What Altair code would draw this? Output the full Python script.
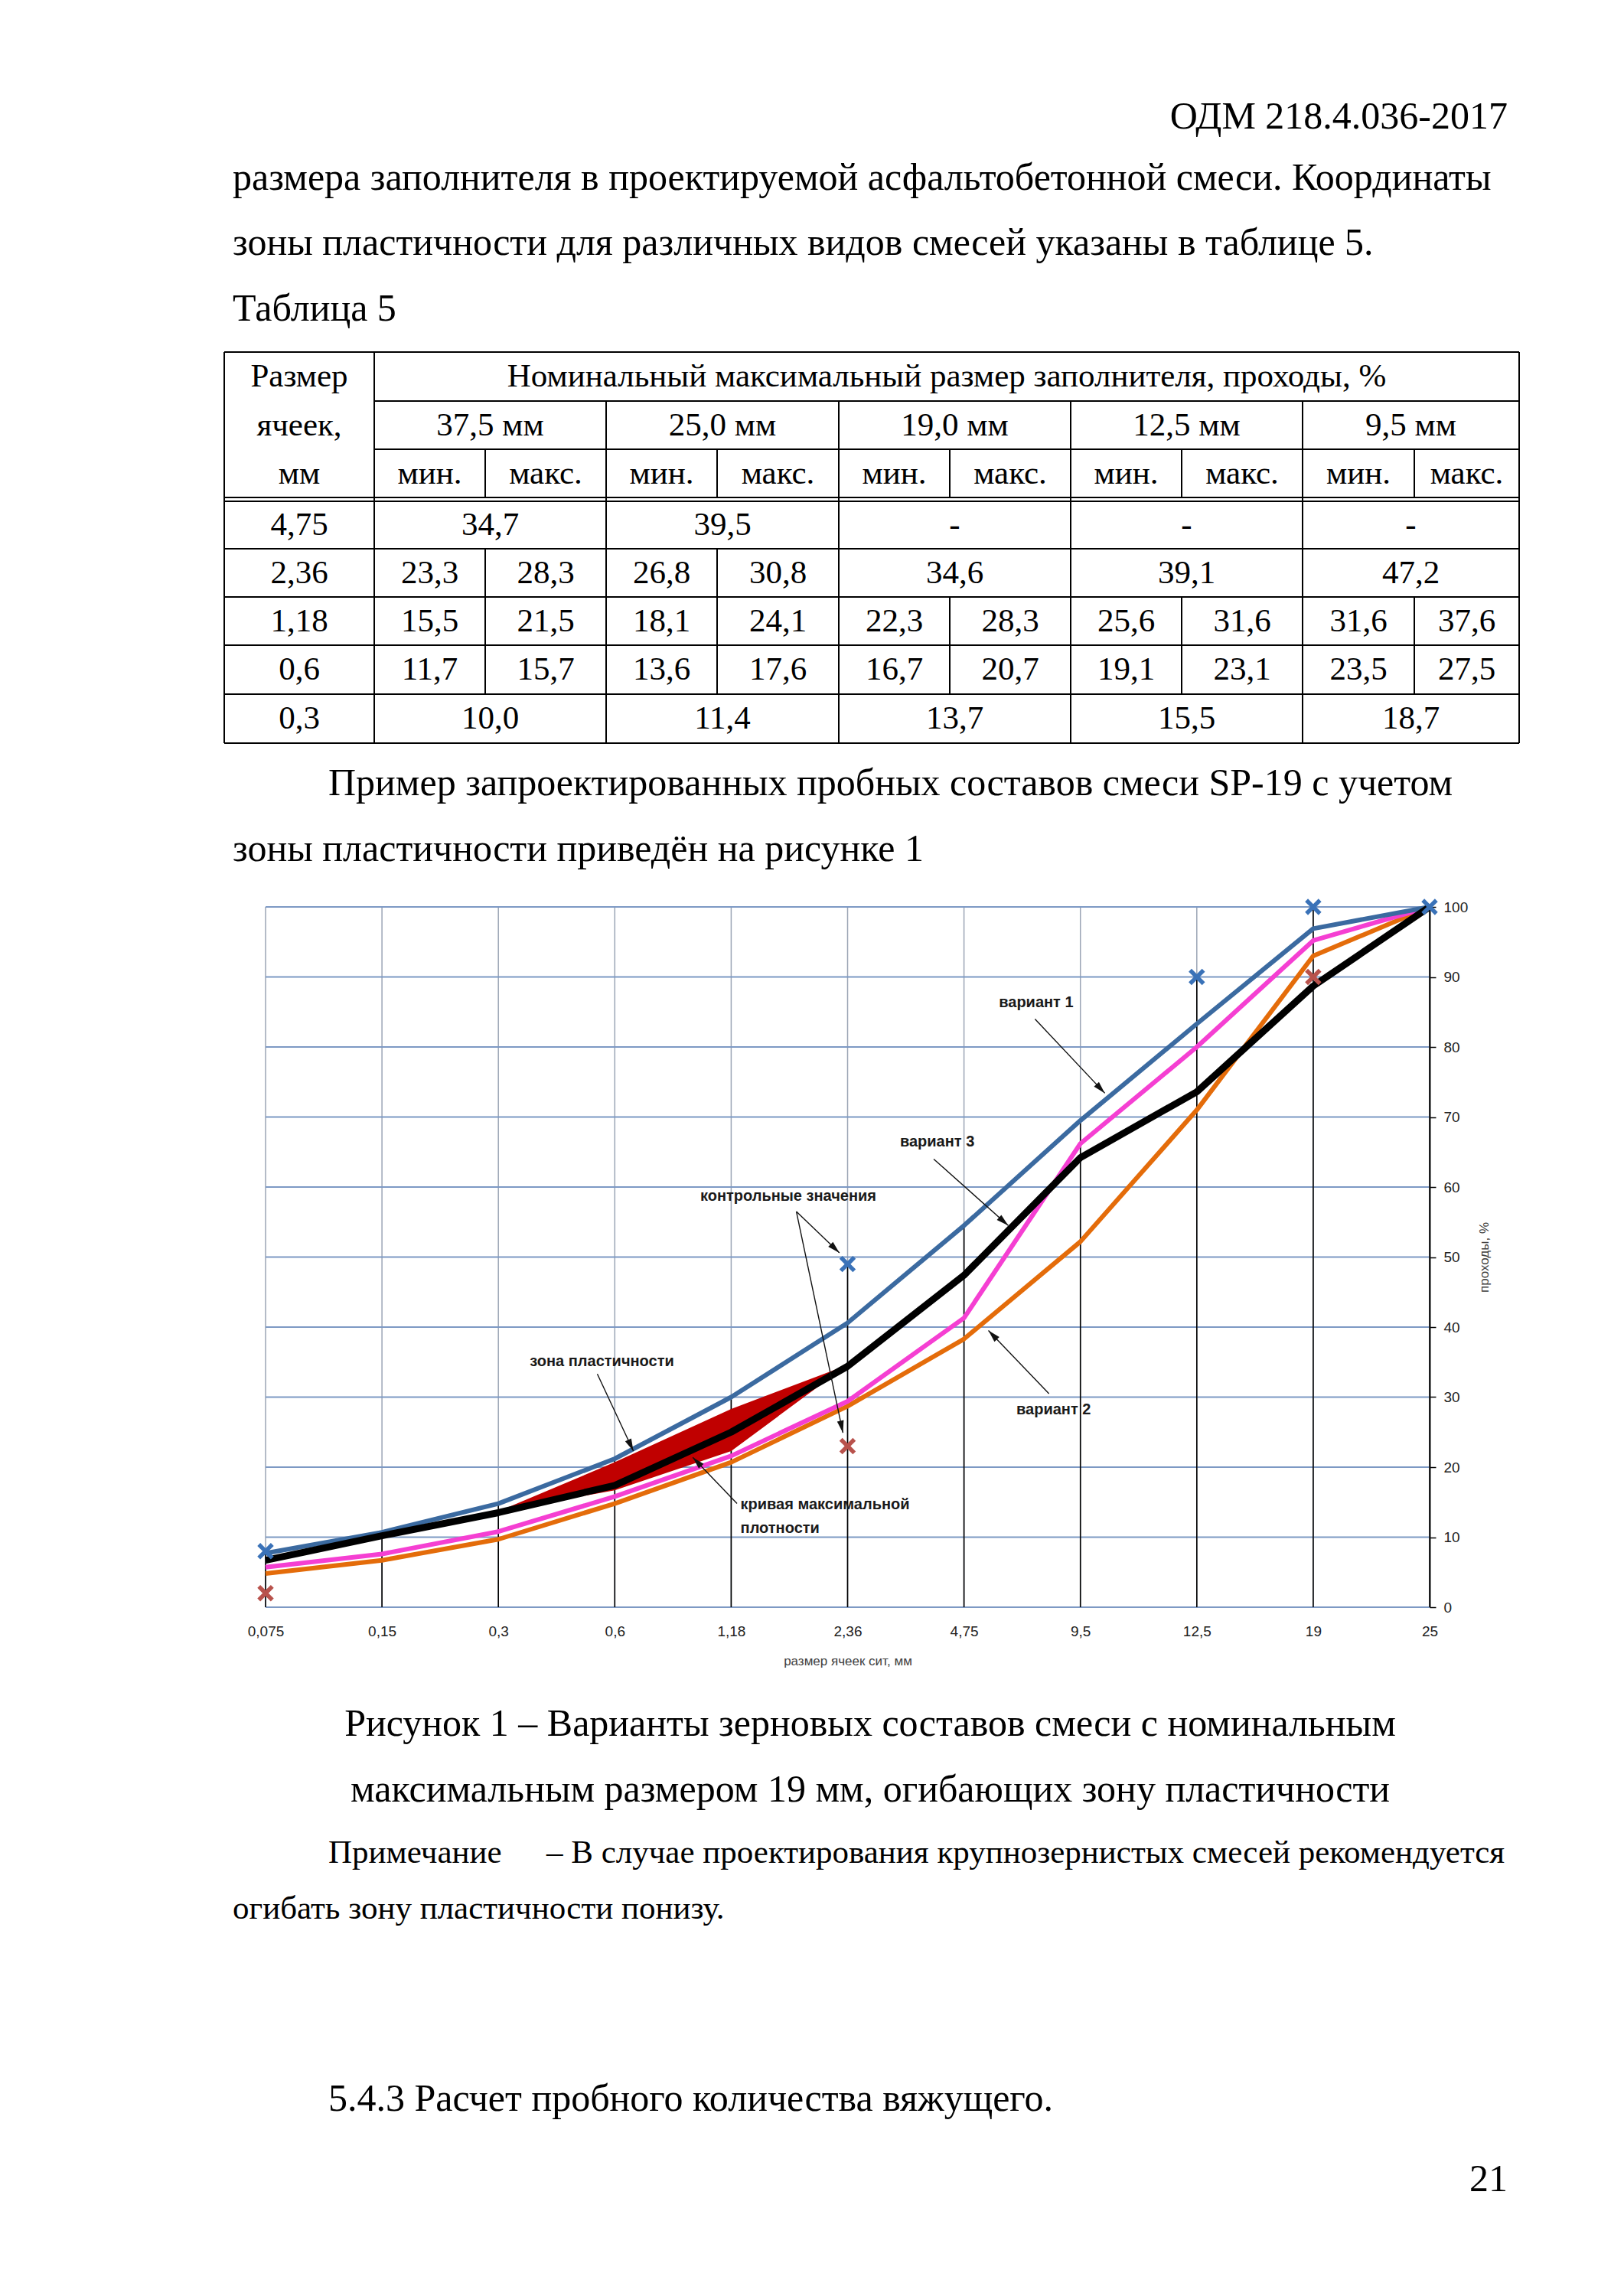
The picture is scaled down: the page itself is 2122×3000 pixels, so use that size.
import json
import math
import altair as alt
import pandas as pd

# ------------------------------------------------------------------
# page geometry (page is 2122 px wide, body margin 8 px)
# ------------------------------------------------------------------
W, H = 2106, 2984
OFF = 8

SERIF = "Liberation Serif"
SANS = "Liberation Sans"

# ------------------------------------------------------------------
# chart data
# ------------------------------------------------------------------
sieve_labels = ["0,075", "0,15", "0,3", "0,6", "1,18", "2,36", "4,75", "9,5", "12,5", "19", "25"]
variant1_blue = [7.7, 10.7, 14.8, 21.2, 30.0, 40.6, 54.5, 69.5, 83.3, 96.9, 100]
variant2_orange = [4.8, 6.7, 9.7, 14.8, 20.7, 28.7, 38.3, 52.2, 71.0, 93.0, 100]
variant3_black = [6.7, 10.2, 13.5, 17.4, 25.0, 34.4, 47.4, 64.2, 73.6, 88.7, 100]
mix_pink = [5.7, 7.6, 10.8, 15.8, 21.6, 29.4, 41.3, 66.2, 80.0, 95.2, 100]

ctrl_upper_sizes = ["0,075", "2,36", "12,5", "19", "25"]
ctrl_upper_values = [8, 49, 90, 100, 100]
ctrl_lower_sizes = ["0,075", "2,36", "19"]
ctrl_lower_values = [2, 23, 90]

y_ticks = [0, 10, 20, 30, 40, 50, 60, 70, 80, 90, 100]

# ------------------------------------------------------------------
# table 5 data
# ------------------------------------------------------------------
table_groups = ["37,5 мм", "25,0 мм", "19,0 мм", "12,5 мм", "9,5 мм"]
table_sizes = ["4,75", "2,36", "1,18", "0,6", "0,3"]
row_4_75 = [["34,7"], ["39,5"], ["-"], ["-"], ["-"]]
row_2_36 = [["23,3", "28,3"], ["26,8", "30,8"], ["34,6"], ["39,1"], ["47,2"]]
row_1_18 = [["15,5", "21,5"], ["18,1", "24,1"], ["22,3", "28,3"], ["25,6", "31,6"], ["31,6", "37,6"]]
row_0_6 = [["11,7", "15,7"], ["13,6", "17,6"], ["16,7", "20,7"], ["19,1", "23,1"], ["23,5", "27,5"]]
row_0_3 = [["10,0"], ["11,4"], ["13,7"], ["15,5"], ["18,7"]]
table_rows = [row_4_75, row_2_36, row_1_18, row_0_6, row_0_3]

# ------------------------------------------------------------------
# page layout helpers (positions in reference page pixels)
# ------------------------------------------------------------------
PX = alt.Scale(domain=[0, W], range=[0, W], nice=False, zero=False)
PY = alt.Scale(domain=[0, H], range=[0, H], nice=False, zero=False)


def page_text(items, size, align="left", font=SERIF, weight="normal", color="black"):
    df = pd.DataFrame(items, columns=["x", "y", "t"])
    df["x"] = df["x"] - OFF
    df["y"] = df["y"] - OFF
    return alt.Chart(df).mark_text(
        align=align, baseline="middle", fontSize=size, font=font,
        fontWeight=weight, color=color
    ).encode(
        x=alt.X("x:Q", scale=PX, axis=None),
        y=alt.Y("y:Q", scale=PY, axis=None),
        text=alt.Text("t:N"),
    )


def page_lines(segs, width=2):
    df = pd.DataFrame(segs, columns=["x", "y", "x2", "y2"])
    for c in df.columns:
        df[c] = df[c] - OFF
    return alt.Chart(df).mark_rule(color="black", strokeWidth=width).encode(
        x=alt.X("x:Q", scale=PX, axis=None),
        y=alt.Y("y:Q", scale=PY, axis=None),
        x2="x2:Q",
        y2="y2:Q",
    )


RIGHT = 1970
LEFT = 304
INDENT = 429

page_layers = []
page_layers.append(page_text([(RIGHT, 153, "ОДМ 218.4.036-2017")], 50, align="right"))
page_layers.append(page_text([
    (LEFT, 233, "размера заполнителя в проектируемой асфальтобетонной смеси. Координаты"),
    (LEFT, 318, "зоны пластичности для различных видов смесей указаны в таблице 5."),
    (LEFT, 404, "Таблица 5"),
    (INDENT, 1024, "Пример запроектированных пробных составов смеси SP-19 с учетом"),
    (LEFT, 1110, "зоны пластичности приведён на рисунке 1"),
    (INDENT, 2743, "5.4.3 Расчет пробного количества вяжущего."),
], 50))
page_layers.append(page_text([
    (1137, 2253, "Рисунок 1 – Варианты зерновых составов смеси с номинальным"),
    (1137, 2339, "максимальным размером 19 мм, огибающих зону пластичности"),
], 50, align="center"))
page_layers.append(page_text([
    (INDENT, 2421, "Примечание"),
    (714, 2421, "– В случае проектирования крупнозернистых смесей рекомендуется"),
    (LEFT, 2494, "огибать зону пластичности понизу."),
], 43))
page_layers.append(page_text([(RIGHT, 2848, "21")], 50, align="right"))

# ---- table geometry ----
T_L, T_R = 293, 1985
C1 = 489
group_edges = [489, 792, 1096, 1399, 1702, 1985]
sub_splits = [634, 937, 1241, 1544, 1848]
r_top, r_h1, r_h2, r_h3a, r_h3b = 460, 524, 587, 650, 655
data_edges = [655, 717, 780, 843, 907, 971]
T_B = 971

segs = []
segs.append((T_L, r_top, T_R, r_top))
segs.append((C1, r_h1, T_R, r_h1))
segs.append((C1, r_h2, T_R, r_h2))
segs.append((T_L, r_h3a, T_R, r_h3a))
segs.append((T_L, r_h3b, T_R, r_h3b))
for yy in data_edges[1:]:
    segs.append((T_L, yy, T_R, yy))
segs.append((T_L, r_top, T_L, T_B))
segs.append((T_R, r_top, T_R, T_B))
segs.append((C1, r_top, C1, T_B))
for g in group_edges[1:-1]:
    segs.append((g, r_h1, g, T_B))
for s in sub_splits:
    segs.append((s, r_h2, s, r_h3a))
for ri, row in enumerate(table_rows):
    y0, y1 = data_edges[ri], data_edges[ri + 1]
    for gi, cell in enumerate(row):
        if len(cell) == 2:
            segs.append((sub_splits[gi], y0, sub_splits[gi], y1))
page_layers.append(page_lines(segs, 2))

tcx = (T_L + C1) / 2
t_items = [
    (tcx, (r_top + r_h1) / 2, "Размер"),
    (tcx, (r_h1 + r_h2) / 2, "ячеек,"),
    (tcx, (r_h2 + r_h3a) / 2, "мм"),
    ((C1 + T_R) / 2, (r_top + r_h1) / 2, "Номинальный максимальный размер заполнителя, проходы, %"),
]
for gi, g in enumerate(table_groups):
    gl, gr = group_edges[gi], group_edges[gi + 1]
    s = sub_splits[gi]
    t_items.append(((gl + gr) / 2, (r_h1 + r_h2) / 2, g))
    t_items.append(((gl + s) / 2, (r_h2 + r_h3a) / 2, "мин."))
    t_items.append(((s + gr) / 2, (r_h2 + r_h3a) / 2, "макс."))
for ri, row in enumerate(table_rows):
    yc = (data_edges[ri] + data_edges[ri + 1]) / 2
    t_items.append((tcx, yc, table_sizes[ri]))
    for gi, cell in enumerate(row):
        gl, gr = group_edges[gi], group_edges[gi + 1]
        s = sub_splits[gi]
        if len(cell) == 2:
            t_items.append(((gl + s) / 2, yc, cell[0]))
            t_items.append(((s + gr) / 2, yc, cell[1]))
        else:
            t_items.append(((gl + gr) / 2, yc, cell[0]))
page_layers.append(page_text(t_items, 43, align="center"))

page_group = alt.layer(*page_layers)

# ------------------------------------------------------------------
# the grading chart
# ------------------------------------------------------------------
X0, X1 = 347 - OFF, 1868 - OFF      # plot area (internal px)
Y0, Y1 = 2100 - OFF, 1185 - OFF
n = len(sieve_labels)
SX = (X1 - X0) / (n - 1)
SY = (Y0 - Y1) / 100.0

XS = alt.Scale(domain=[0, n - 1], range=[X0, X1], nice=False, zero=False)
YS = alt.Scale(domain=[0, 100], range=[Y0, Y1], nice=False, zero=False)

label_expr = json.dumps(sieve_labels, ensure_ascii=False) + "[round(datum.value)]"
X_AX = alt.Axis(
    orient="bottom", offset=Y0 - H, values=list(range(n)), labelExpr=label_expr,
    domain=False, ticks=False, grid=False, labelFlush=False, labelOverlap=False,
    labelFont=SANS, labelFontSize=19, labelColor="#222222", labelPadding=22,
    title="размер ячеек сит, мм", titleFont=SANS, titleFontSize=17,
    titleFontWeight="normal", titleColor="#404040", titlePadding=21,
)
Y_AX = alt.Axis(
    orient="right", offset=X1 - W, values=y_ticks, grid=False,
    domain=True, domainColor="black", domainWidth=2,
    ticks=True, tickColor="black", tickSize=8, tickWidth=1.5,
    labelFlush=False, labelOverlap=False,
    labelFont=SANS, labelFontSize=19, labelColor="#222222", labelPadding=10,
    title="проходы, %", titleFont=SANS, titleFontSize=17, titleFontWeight="normal",
    titleColor="#404040", titleAngle=270, titleBaseline="top", titlePadding=14,
)


def cx(field):
    return alt.X(field, scale=XS, axis=X_AX)


def cy(field):
    return alt.Y(field, scale=YS, axis=Y_AX)


idx = list(range(n))
series = {
    "orange": (variant2_orange, "#e46c0a", 6),
    "pink": (mix_pink, "#f53fd2", 6),
    "blue": (variant1_blue, "#3b6aa0", 6),
    "black": (variant3_black, "#000000", 9),
}

# grid
hgrid = pd.DataFrame({"v": y_ticks, "a": 0, "b": n - 1})
vgrid = pd.DataFrame({"i": idx, "lo": 0, "hi": 100})
l_hgrid = alt.Chart(hgrid).mark_rule(color="#7d99c4", strokeWidth=2).encode(
    x=cx("a:Q"), x2="b:Q", y=cy("v:Q"))
l_vgrid = alt.Chart(vgrid).mark_rule(color="#9ba5b5", strokeWidth=1.5).encode(
    x=cx("i:Q"), y=cy("lo:Q"), y2="hi:Q")

# drop lines from the highest value at each sieve
tops = []
for i in idx:
    vals = [variant1_blue[i], variant2_orange[i], variant3_black[i], mix_pink[i]]
    lab = sieve_labels[i]
    vals += [v for s_, v in zip(ctrl_upper_sizes, ctrl_upper_values) if s_ == lab]
    vals += [v for s_, v in zip(ctrl_lower_sizes, ctrl_lower_values) if s_ == lab]
    tops.append(max(vals))
drop = pd.DataFrame({"i": idx, "lo": 0, "top": tops})
l_drop = alt.Chart(drop).mark_rule(color="black", strokeWidth=1.6).encode(
    x=cx("i:Q"), y=cy("lo:Q"), y2="top:Q")


def line_layer(key):
    vals, color, w = series[key]
    df = pd.DataFrame({"i": idx, "v": vals})
    return alt.Chart(df).mark_line(color=color, strokeWidth=w, strokeJoin="round").encode(
        x=cx("i:Q"), y=cy("v:Q"))


# plasticity zone from the 19,0 мм column of table 5
def num(s):
    return float(s.replace(",", "."))


zone_rows = []
for size_lab, row in zip(table_sizes, table_rows):
    if size_lab not in sieve_labels:
        continue
    cell = row[2]
    if cell[0] == "-":
        continue
    lo = num(cell[0])
    hi = num(cell[-1])
    zone_rows.append({"i": sieve_labels.index(size_lab), "lo": lo, "hi": hi})
zone = pd.DataFrame(zone_rows).sort_values("i")
l_zone = alt.Chart(zone).mark_area(color="#c00000", opacity=1).encode(
    x=cx("i:Q"), y=cy("hi:Q"), y2="lo:Q")

# control points (drawn as "x" marks; custom symbol in the -1..1 box)
X_SHAPE = ("M-1,-0.64L-0.64,-1L0,-0.36L0.64,-1L1,-0.64L0.36,0L1,0.64L0.64,1"
           "L0,0.36L-0.64,1L-1,0.64L-0.36,0Z")
cu = pd.DataFrame({"i": [sieve_labels.index(s) for s in ctrl_upper_sizes], "v": ctrl_upper_values})
cl = pd.DataFrame({"i": [sieve_labels.index(s) for s in ctrl_lower_sizes], "v": ctrl_lower_values})
l_cu = alt.Chart(cu).mark_point(shape=X_SHAPE, filled=True, size=460,
                                color="#3a72b8", opacity=1).encode(x=cx("i:Q"), y=cy("v:Q"))
l_cl = alt.Chart(cl).mark_point(shape=X_SHAPE, filled=True, size=460,
                                color="#b8524c", opacity=1).encode(x=cx("i:Q"), y=cy("v:Q"))

# annotations (label positions in chart units: sieve index, percent)
ann_center = pd.DataFrame([
    (6.62, 86.3, "вариант 1"),
    (5.77, 66.5, "вариант 3"),
    (6.77, 28.2, "вариант 2"),
    (4.49, 58.7, "контрольные значения"),
    (2.89, 35.1, "зона пластичности"),
], columns=["i", "v", "t"])
ann_left = pd.DataFrame([
    (4.08, 14.6, "кривая максимальной"),
    (4.08, 11.3, "плотности"),
], columns=["i", "v", "t"])
l_ann_c = alt.Chart(ann_center).mark_text(
    align="center", baseline="middle", font=SANS, fontSize=20, fontWeight="bold",
    color="#1a1a1a").encode(x=cx("i:Q"), y=cy("v:Q"), text="t:N")
l_ann_l = alt.Chart(ann_left).mark_text(
    align="left", baseline="middle", font=SANS, fontSize=20, fontWeight="bold",
    color="#1a1a1a").encode(x=cx("i:Q"), y=cy("v:Q"), text="t:N")

arrows = [
    (6.61, 84.0, 7.21, 73.4),
    (5.74, 64.0, 6.38, 54.5),
    (6.73, 30.5, 6.21, 39.5),
    (4.56, 56.5, 4.93, 50.6),
    (4.56, 56.5, 4.96, 24.9),
    (2.85, 33.3, 3.16, 22.3),
    (4.05, 14.8, 3.67, 21.4),
]
HEAD = 16
arr_rows, head_rows = [], []
for (a, b, c, d) in arrows:
    dxp = (c - a) * SX
    dyp = -(d - b) * SY
    L = math.hypot(dxp, dyp)
    ux, uy = dxp / L, dyp / L
    ang = math.degrees(math.atan2(ux, -uy)) % 360
    hx = c - ux * HEAD / 2 / SX
    hy = d + uy * HEAD / 2 / SY
    arr_rows.append({"i": a, "v": b, "i2": c, "v2": d})
    head_rows.append({"i": hx, "v": hy, "ang": ang})
l_arr = alt.Chart(pd.DataFrame(arr_rows)).mark_rule(color="#111111", strokeWidth=1.4).encode(
    x=cx("i:Q"), y=cy("v:Q"), x2="i2:Q", y2="v2:Q")
l_head = alt.Chart(pd.DataFrame(head_rows)).mark_point(
    shape="M0,-1L0.55,1L-0.55,1Z", filled=True, size=HEAD * HEAD,
    color="#111111", opacity=1).encode(
    x=cx("i:Q"), y=cy("v:Q"), angle=alt.Angle("ang:Q", scale=None))

chart_group = alt.layer(
    l_vgrid, l_hgrid, l_drop,
    line_layer("orange"), line_layer("pink"), l_zone,
    line_layer("blue"), line_layer("black"),
    l_cu, l_cl, l_arr, l_head, l_ann_c, l_ann_l,
)

chart = alt.layer(page_group, chart_group).resolve_scale(
    x="independent", y="independent"
).properties(
    width=W, height=H, padding=0,
    autosize=alt.AutoSizeParams(type="none"),
    background="white",
).configure_view(stroke=None)

chart.save("out.html", embed_options={"renderer": "svg", "actions": False})
